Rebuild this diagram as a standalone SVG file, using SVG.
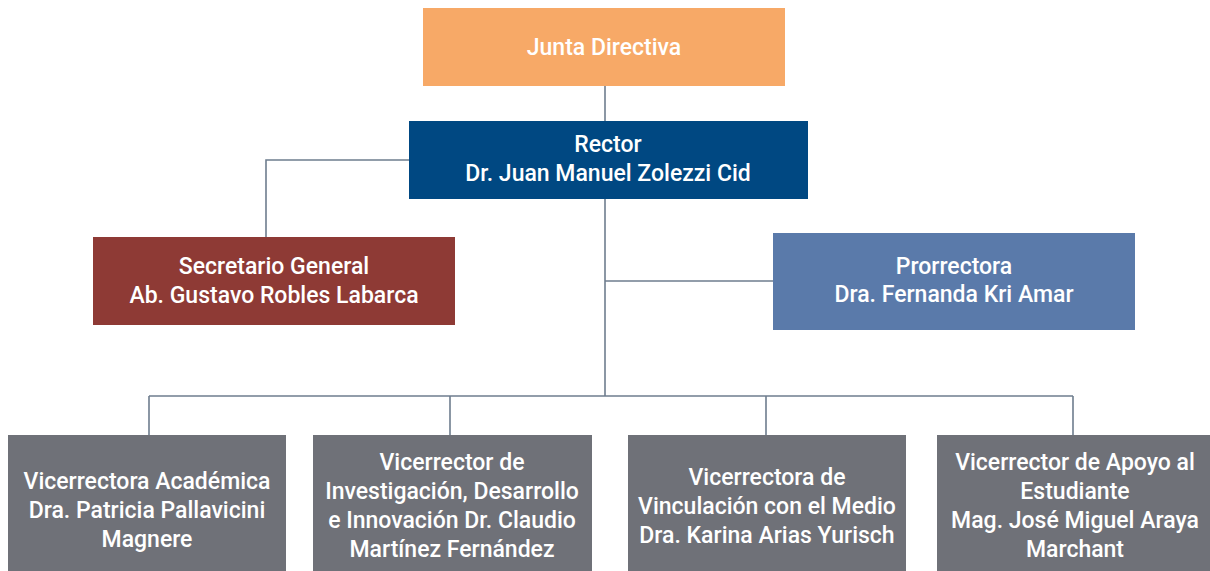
<svg xmlns="http://www.w3.org/2000/svg" width="1210" height="571" viewBox="0 0 1210 571">
<style>
.t{font-family:Roboto,"Liberation Sans",sans-serif;font-size:23px;font-weight:500;fill:#fff;text-anchor:middle}
.c{fill:none;stroke:#6E7D8E;stroke-width:1.6}
</style>
<rect width="1210" height="571" fill="#fff"/>
<g id="connectors">
<path class="c" d="M605 86V121"/>
<path class="c" d="M409 160H266V237"/>
<path class="c" d="M605 199V396"/>
<path class="c" d="M605 281H773"/>
<path class="c" d="M149 396H1073"/>
<path class="c" d="M149 396V435M450 396V435M766 396V435M1073 396V435"/>
</g>
<g id="junta"><rect x="423" y="8" width="362" height="78" fill="#F7A967"/><text class="t" x="604" y="55">Junta Directiva</text></g>
<g id="rector"><rect x="409" y="121" width="399" height="78" fill="#004882"/><text class="t" x="608" y="152">Rector</text><text class="t" x="608" y="181">Dr. Juan Manuel Zolezzi Cid</text></g>
<g id="secretario"><rect x="93" y="237" width="362" height="88" fill="#8E3A35"/><text class="t" x="274" y="274">Secretario General</text><text class="t" x="274" y="303">Ab. Gustavo Robles Labarca</text></g>
<g id="prorrectora"><rect x="773" y="233" width="362" height="97" fill="#5A7AAA"/><text class="t" x="954" y="274">Prorrectora</text><text class="t" x="954" y="302">Dra. Fernanda Kri Amar</text></g>
<g id="vra"><rect x="8" y="435" width="278" height="136" fill="#6F7178"/><text class="t" x="147" y="489">Vicerrectora Académica</text><text class="t" x="147" y="518">Dra. Patricia Pallavicini</text><text class="t" x="147" y="547">Magnere</text></g>
<g id="vrid"><rect x="313" y="435" width="279" height="136" fill="#6F7178"/><text class="t" x="452" y="470">Vicerrector de</text><text class="t" x="452" y="499">Investigación, Desarrollo</text><text class="t" x="452" y="528">e Innovación Dr. Claudio</text><text class="t" x="452" y="557">Martínez Fernández</text></g>
<g id="vrvm"><rect x="628" y="435" width="278" height="136" fill="#6F7178"/><text class="t" x="767" y="485">Vicerrectora de</text><text class="t" x="767" y="514">Vinculación con el Medio</text><text class="t" x="767" y="543">Dra. Karina Arias Yurisch</text></g>
<g id="vrae"><rect x="937" y="435" width="273" height="136" fill="#6F7178"/><text class="t" x="1075" y="470">Vicerrector de Apoyo al</text><text class="t" x="1075" y="499">Estudiante</text><text class="t" x="1075" y="528">Mag. José Miguel Araya</text><text class="t" x="1075" y="557">Marchant</text></g>
</svg>
